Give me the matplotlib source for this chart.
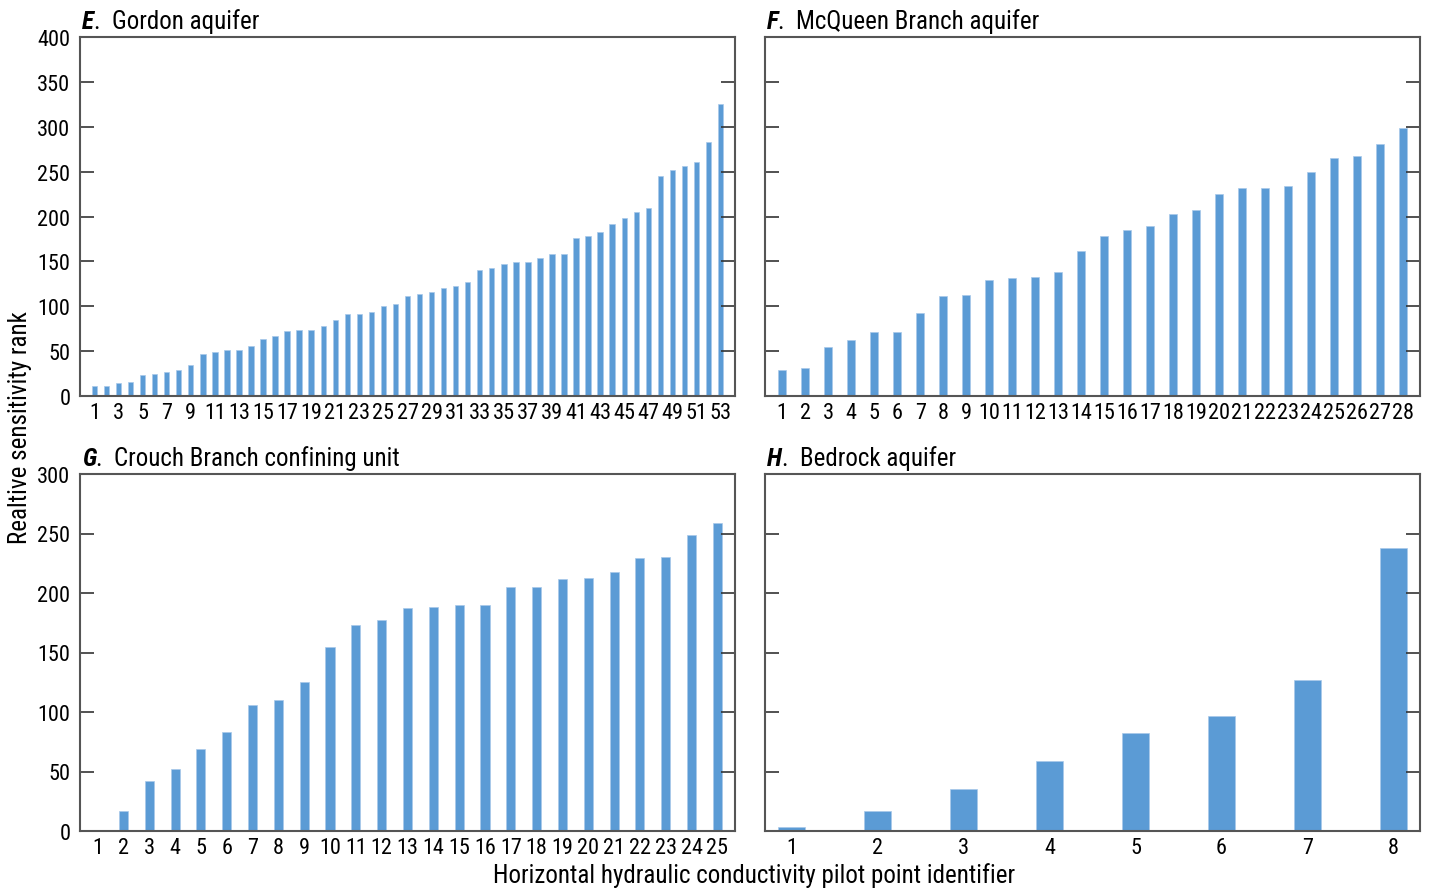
import matplotlib
matplotlib.use("Agg")
import matplotlib.pyplot as plt
from matplotlib import font_manager as fm
import numpy as np

# pick a narrow sans face if one is installed
installed = {f.name for f in fm.fontManager.ttflist}
family = None
for cand in ['Roboto Condensed', 'Liberation Sans Narrow', 'Open Sans Condensed',
             'Noto Sans Condensed', 'DejaVu Sans Condensed']:
    if cand in installed:
        family = cand
        break
if family is None:
    condensed = [f for f in fm.fontManager.ttflist
                 if f.name == 'DejaVu Sans' and str(f.stretch) in ('condensed', 'semi-condensed', '75', '87')]
    if condensed:
        family = 'DejaVu Sans'
        plt.rcParams['font.stretch'] = 'condensed'
    else:
        family = 'Liberation Sans'
plt.rcParams['font.family'] = [family, 'DejaVu Sans']

BAR_COLOR = '#5b9bd5'
SPINE_COLOR = '#555555'

# Relative sensitivity rank by pilot point
gordon = [11, 11, 14, 16, 23, 25, 27, 29, 34, 47, 49, 51, 51, 56, 63, 67, 72, 74,
          74, 78, 85, 91, 91, 94, 100, 102, 111, 114, 116, 120, 123, 127, 140, 143,
          147, 149, 149, 154, 158, 158, 176, 178, 183, 192, 198, 205, 210, 245, 252,
          256, 261, 283, 325]
mcqueen = [29, 31, 55, 62, 71, 71, 93, 111, 113, 129, 131, 133, 138, 162, 178, 185,
           189, 203, 207, 225, 232, 232, 234, 250, 265, 267, 281, 299]
crouch = [0, 17, 42, 52, 69, 83, 106, 110, 125, 155, 173, 177, 187, 188, 190, 190,
          205, 205, 212, 213, 218, 229, 230, 249, 259]
bedrock = [3, 17, 35, 59, 82, 97, 127, 238]

panels = [
    ('E', 'Gordon aquifer', gordon, 400, 0.45, 1.2, 2),
    ('F', 'McQueen Branch aquifer', mcqueen, 400, 0.35, 0.75, 1),
    ('G', 'Crouch Branch confining unit', crouch, 300, 0.35, 0.68, 1),
    ('H', 'Bedrock aquifer', bedrock, 300, 0.32, 0.31, 1),
]

W, H = 1431, 895
fig = plt.figure(figsize=(W / 100, H / 100), dpi=100)

# axes boxes in pixels: left, top, right, bottom
boxes = [(80, 38, 735, 397), (765, 38, 1420, 397),
         (80, 475, 735, 832), (765, 475, 1420, 832)]

for k, (letter, name, vals, ymax, width, pad, step) in enumerate(panels):
    l, t, r, b = boxes[k]
    ax = fig.add_axes([l / W, 1 - b / H, (r - l) / W, (b - t) / H])
    x = np.arange(1, len(vals) + 1)
    ax.bar(x, vals, width=width, color=BAR_COLOR, edgecolor='#a9c9ea', linewidth=0.5)
    ax.set_xlim(1 - pad, len(vals) + pad)
    ax.set_ylim(0, ymax)
    ax.set_xticks(x[::step])
    ax.set_xticklabels([str(v) for v in x[::step]])
    ax.set_yticks(np.arange(0, ymax + 1, 50))
    ax.tick_params(axis='x', length=0, pad=4, labelsize=16)
    ax.tick_params(axis='y', direction='in', length=10, width=1.2, color='#333333',
                   left=True, right=True, labelsize=16, pad=7)
    if k % 2 == 1:
        ax.set_yticklabels([])
    for s in ax.spines.values():
        s.set_color(SPINE_COLOR)
        s.set_linewidth(1.5)

    # panel title: bold italic letter, then the name
    lt = ax.text(0.003, 1.011, letter, transform=ax.transAxes, fontsize=18,
                 fontweight='bold', fontstyle='italic', ha='left', va='bottom')
    ax.annotate('.  ' + name, xy=(1, 0), xycoords=lt, fontsize=18,
                ha='left', va='bottom')

fig.text(20 / W, 1 - 428 / H, 'Realtive sensitivity rank', rotation=90,
         fontsize=18, ha='center', va='center')
fig.text(754 / W, 1 - 876 / H, 'Horizontal hydraulic conductivity pilot point identifier',
         fontsize=18, ha='center', va='center')

fig.savefig('out.png', dpi=100)
plt.close(fig)
